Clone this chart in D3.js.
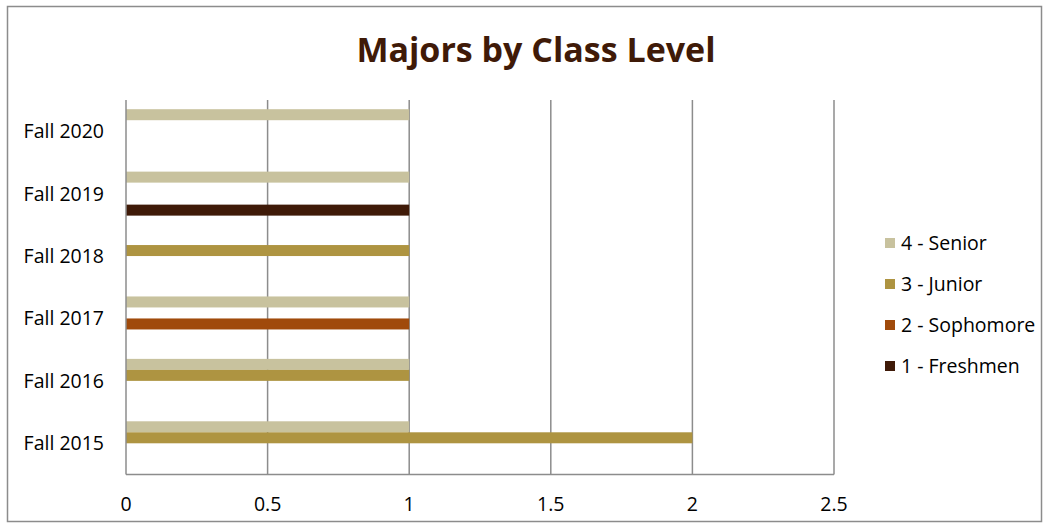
<!DOCTYPE html>
<html><head><meta charset="utf-8">
<script src="https://cdn.jsdelivr.net/npm/d3@7"></script>
<style>body{margin:0;background:#fff}svg{display:block}text{font-family:"Open Sans",Lato,sans-serif}</style>
</head><body><svg id="c" width="1049" height="529"></svg>
<script>
const categories = ["Fall 2015","Fall 2016","Fall 2017","Fall 2018","Fall 2019","Fall 2020"];
const seriesNames = ["4 - Senior","3 - Junior","2 - Sophomore","1 - Freshmen"];
const senior    = [1,1,1,0,1,1];
const junior    = [2,1,0,1,0,0];
const sophomore = [0,0,1,0,0,0];
const freshmen  = [0,0,0,0,1,0];
const xTicks = [0,0.5,1,1.5,2,2.5];
const colors = ["#C8C29E","#AE9441","#A04A0B","#3F1A08"];

const svg = d3.select("#c");
svg.append("rect").attr("x",7.5).attr("y",6.5).attr("width",1034).attr("height",515)
  .attr("fill","#fff").attr("stroke","#8c8c8c").attr("stroke-width",1.5);

const L=126,R=834,T=100,B=474.5;
const x = d3.scaleLinear().domain([0,2.5]).range([L,R]);
const yOuter = d3.scaleBand().domain(categories.slice().reverse()).range([T,B]);

svg.append("g").selectAll("line").data(xTicks.slice(1)).join("line")
  .attr("x1",d=>x(d)).attr("x2",d=>x(d)).attr("y1",T).attr("y2",B)
  .attr("stroke","#8c8c8c").attr("stroke-width",1.5);

const data = [senior,junior,sophomore,freshmen];
const barH = 11;
const gap = (yOuter.bandwidth()-4*barH)/2;
data.forEach((vals,si)=>{
  svg.append("g").selectAll("rect").data(categories.map((c,i)=>({c,v:vals[i]})).filter(d=>d.v>0)).join("rect")
    .attr("x",x(0)).attr("width",d=>x(d.v)-x(0))
    .attr("y",d=>yOuter(d.c)+gap+si*barH).attr("height",barH)
    .attr("fill",colors[si]);
});

svg.append("line").attr("x1",L).attr("x2",L).attr("y1",T).attr("y2",B).attr("stroke","#8c8c8c").attr("stroke-width",1.5);
svg.append("line").attr("x1",L).attr("x2",R).attr("y1",B).attr("y2",B).attr("stroke","#8c8c8c").attr("stroke-width",1.5);

const fs = 19.5;
svg.append("g").selectAll("text").data(xTicks).join("text")
  .attr("x",d=>x(d)).attr("y",511).attr("text-anchor","middle")
  .attr("font-size",fs).attr("fill","#000").text(d=>d);

svg.append("g").selectAll("text").data(categories).join("text")
  .attr("x",104).attr("y",d=>yOuter(d)+yOuter.bandwidth()/2+7).attr("text-anchor","end")
  .attr("font-size",fs).attr("fill","#000").text(d=>d);

svg.append("text").attr("x",536).attr("y",62).attr("text-anchor","middle")
  .attr("font-size",34).attr("font-weight","bold").attr("fill","#3F1A08").text("Majors by Class Level");

const lg = svg.append("g").selectAll("g").data(seriesNames).join("g")
  .attr("transform",(d,i)=>`translate(885,${238+i*41})`);
lg.append("rect").attr("width",10).attr("height",10).attr("fill",(d,i)=>colors[i]);
lg.append("text").attr("x",16).attr("y",11.5).attr("font-size",fs).attr("fill","#000").text(d=>d);
</script></body></html>
